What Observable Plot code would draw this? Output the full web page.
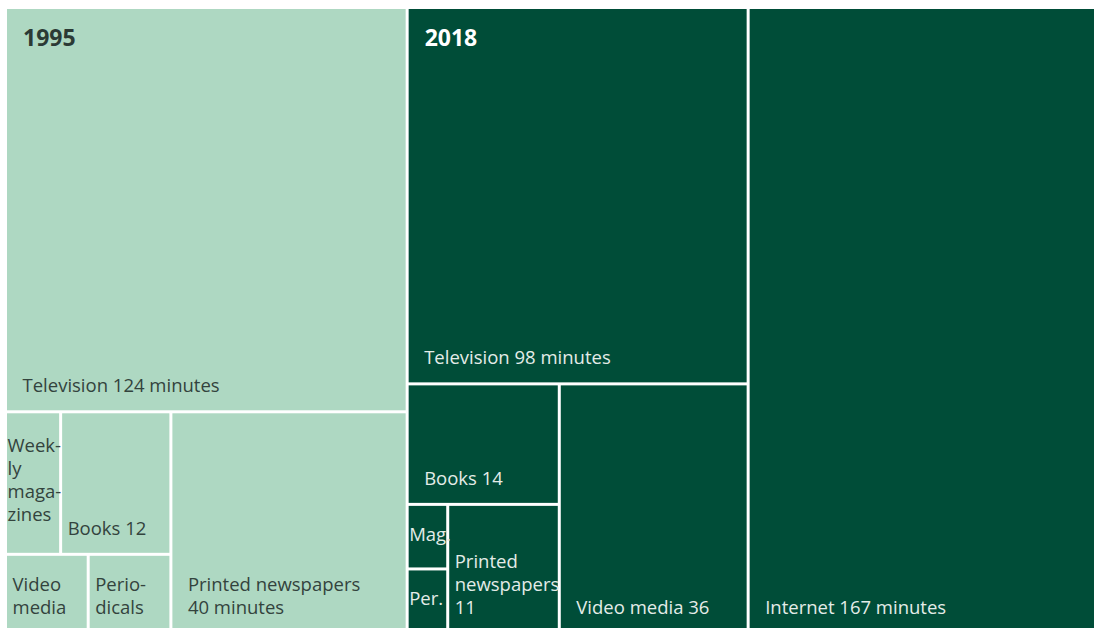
<!DOCTYPE html>
<html>
<head>
<meta charset="utf-8">
<script src="https://cdn.jsdelivr.net/npm/d3@7"></script>
<script src="https://cdn.jsdelivr.net/npm/@observablehq/plot@0.6"></script>
<style>
  html, body { margin: 0; padding: 0; background: #ffffff; }
  #chart { width: 1094px; height: 628px; overflow: hidden; }
</style>
</head>
<body>
<div id="chart"></div>
<script>
// ---- Data (minutes per day spent on each medium) ----
const years = ["1995", "2018"];

const media1995   = ["Television", "Weekly magazines", "Books", "Video media", "Periodicals", "Printed newspapers"];
const minutes1995 = [124, 6, 12, 5, 5, 40];
const labels1995  = [
  ["Television 124 minutes"],
  ["Week-", "ly", "maga-", "zines"],
  ["Books 12"],
  ["Video", "media"],
  ["Perio-", "dicals"],
  ["Printed newspapers", "40 minutes"]
];

const media2018   = ["Television", "Books", "Magazines", "Periodicals", "Printed newspapers", "Video media", "Internet"];
const minutes2018 = [98, 14, 2, 2, 11, 36, 167];
const labels2018  = [
  ["Television 98 minutes"],
  ["Books 14"],
  ["Mag."],
  ["Per."],
  ["Printed", "newspapers", "11"],
  ["Video media 36"],
  ["Internet 167 minutes"]
];

// ---- Build hierarchy & layout with d3.treemap ----
const series = [
  {media: media1995, minutes: minutes1995, labels: labels1995},
  {media: media2018, minutes: minutes2018, labels: labels2018}
];
const tree = {
  name: "root",
  children: years.map((y, i) => ({
    name: y,
    children: series[i].media.map((m, j) => ({
      name: m, year: y, value: series[i].minutes[j], lines: series[i].labels[j]
    }))
  }))
};

const W = 1092, H = 626;
const root = d3.hierarchy(tree).sum(d => d.value || 0);
d3.treemap().tile(d3.treemapBinary).size([W, H]).round(false)(root);

const leaves = root.leaves().map(n => ({
  name: n.data.name, year: n.data.year, lines: n.data.lines,
  x1: n.x0, x2: n.x1, y1: n.y0, y2: n.y1
}));
const yearNodes = root.children.map(n => ({year: n.data.name, x1: n.x0, y1: n.y0}));

const textColor = {"1995": "#33433d", "2018": "#e4ece8"};
const yearColor = {"1995": "#2b3a35", "2018": "#ffffff"};

const wdt = d => d.x2 - d.x1;
const big = leaves.filter(d => wdt(d) > 140);
const mid = leaves.filter(d => wdt(d) > 60 && wdt(d) <= 140);
const narrow = leaves.filter(d => wdt(d) <= 60);

const common = {
  text: d => d.lines.join("\n"),
  fill: d => textColor[d.year],
  textAnchor: "start",
  fontSize: 18.5,
  lineHeight: 1.24
};

const chart = Plot.plot({
  width: 1094,
  height: 628,
  margin: 0,
  style: {fontFamily: "'Open Sans', sans-serif", background: "#ffffff", overflow: "hidden"},
  x: {domain: [-5.5, 1088.5], range: [0, 1094], axis: null},
  y: {domain: [-7.5, 620.5], range: [0, 628], axis: null},
  color: {domain: years, range: ["#aed8c2", "#004d38"]},
  marks: [
    Plot.rect(leaves, {x1: "x1", x2: "x2", y1: "y1", y2: "y2", fill: "year", inset: 1.5}),
    Plot.text(big, {...common, x: "x1", y: "y2", lineAnchor: "bottom", dx: 16.5, dy: -20}),
    Plot.text(mid, {...common, x: "x1", y: "y2", lineAnchor: "bottom", dx: 6.5, dy: -20}),
    Plot.text(narrow, {...common, x: "x1", y: d => (d.y1 + d.y2) / 2, lineAnchor: "middle", dx: 1.5, dy: -4}),
    Plot.text(yearNodes, {
      x: "x1", y: "y1", text: "year", fill: d => yearColor[d.year],
      textAnchor: "start", lineAnchor: "top", fontSize: 23, fontWeight: "bold", dx: 17, dy: 22
    })
  ]
});
document.getElementById("chart").appendChild(chart);
</script>
</body>
</html>
